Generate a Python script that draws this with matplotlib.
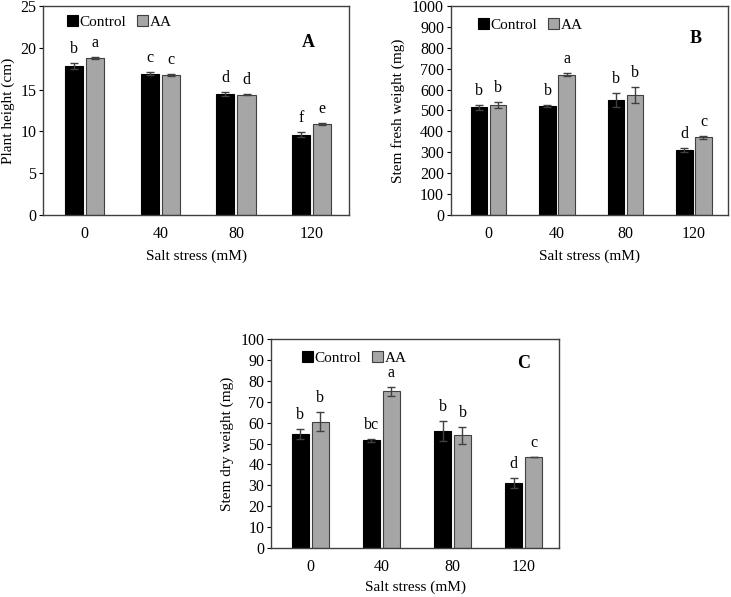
import numpy as np
import matplotlib
matplotlib.use('Agg')
import matplotlib.pyplot as plt

salt = ['0', '40', '80', '120']

height_ctrl = [17.8, 16.9, 14.5, 9.6]
height_aa = [18.8, 16.7, 14.4, 10.9]
height_ctrl_err = [0.35, 0.2, 0.25, 0.3]
height_aa_err = [0.1, 0.12, 0.1, 0.15]
height_ctrl_let = ['b', 'c', 'd', 'f']
height_aa_let = ['a', 'c', 'd', 'e']

fresh_ctrl = [515, 522, 550, 312]
fresh_aa = [527, 671, 575, 372]
fresh_ctrl_err = [12, 5, 32, 9]
fresh_aa_err = [15, 8, 38, 8]
fresh_ctrl_let = ['b', 'b', 'b', 'd']
fresh_aa_let = ['b', 'a', 'b', 'c']

dry_ctrl = [54.5, 51.5, 56, 31]
dry_aa = [60.5, 75, 54, 43.5]
dry_ctrl_err = [2.5, 0.8, 5, 2.5]
dry_aa_err = [4.5, 2, 4, 0]
dry_ctrl_let = ['b', 'bc', 'b', 'd']
dry_aa_let = ['b', 'a', 'b', 'c']

plt.rcParams['font.family'] = 'Liberation Serif'
plt.rcParams['font.size'] = 11

fig = plt.figure(figsize=(7.31, 5.97), dpi=100)


def panel(rect, ctrl, aa, ctrl_err, aa_err, ctrl_let, aa_let, ymax, ystep,
          ylabel, tag, tag_pos, leg_pos, ylab_x, xlab_y):
    ax = fig.add_axes(rect)
    x = np.arange(len(salt))
    w = 0.24
    off = 0.14
    ekw = dict(ecolor='#404040', elinewidth=1, capsize=3, capthick=1)
    ax.bar(x - off, ctrl, w, yerr=ctrl_err, color='black', edgecolor='black',
           linewidth=0.8, error_kw=ekw, label='Control')
    ax.bar(x + off, aa, w, yerr=aa_err, color='#a6a6a6', edgecolor='#404040',
           linewidth=0.8, error_kw=ekw, label='AA')
    pad = ymax * 0.028
    for i in range(len(salt)):
        ax.text(x[i] - off, ctrl[i] + ctrl_err[i] + pad, ctrl_let[i],
                ha='center', va='bottom', fontsize=11.5)
        ax.text(x[i] + off, aa[i] + aa_err[i] + pad, aa_let[i],
                ha='center', va='bottom', fontsize=11.5)
    ax.set_xlim(-0.55, 3.5)
    ax.set_ylim(0, ymax)
    ax.set_yticks(np.arange(0, ymax + ystep / 2, ystep))
    ax.set_xticks(x)
    ax.set_xticklabels(salt)
    ax.tick_params(axis='x', length=0, pad=8, labelsize=11.5)
    ax.tick_params(axis='y', length=3, width=0.8, direction='out', pad=2,
                   labelsize=11.5)
    for s in ax.spines.values():
        s.set_color('#404040')
        s.set_linewidth(1)
    ax.set_xlabel('Salt stress (mM)', fontsize=11, va='center')
    ax.xaxis.set_label_coords(0.5, xlab_y)
    ax.set_ylabel(ylabel, fontsize=11, va='center')
    ax.yaxis.set_label_coords(ylab_x, 0.5)
    ax.text(tag_pos[0], tag_pos[1], tag, transform=ax.transAxes, ha='center',
            va='center', fontsize=13, fontweight='bold')
    ax.legend(loc='center left', bbox_to_anchor=leg_pos, ncol=2, frameon=False,
              handlelength=0.7, handleheight=0.7, handletextpad=0.12,
              columnspacing=0.7, fontsize=11, borderaxespad=0, borderpad=0)
    return ax


panel([0.059, 0.640, 0.419, 0.350], height_ctrl, height_aa, height_ctrl_err,
      height_aa_err, height_ctrl_let, height_aa_let, 25, 5, 'Plant height (cm)',
      'A', (0.866, 0.823), (0.078, 0.923), -0.114, -0.2)
panel([0.617, 0.640, 0.379, 0.350], fresh_ctrl, fresh_aa, fresh_ctrl_err,
      fresh_aa_err, fresh_ctrl_let, fresh_aa_let, 1000, 100,
      'Stem fresh weight (mg)', 'B', (0.884, 0.842), (0.097, 0.909), -0.191, -0.2)
panel([0.371, 0.082, 0.394, 0.350], dry_ctrl, dry_aa, dry_ctrl_err,
      dry_aa_err, dry_ctrl_let, dry_aa_let, 100, 10, 'Stem dry weight (mg)',
      'C', (0.875, 0.885), (0.107, 0.91), -0.153, -0.19)

fig.savefig('out.png', dpi=100)
